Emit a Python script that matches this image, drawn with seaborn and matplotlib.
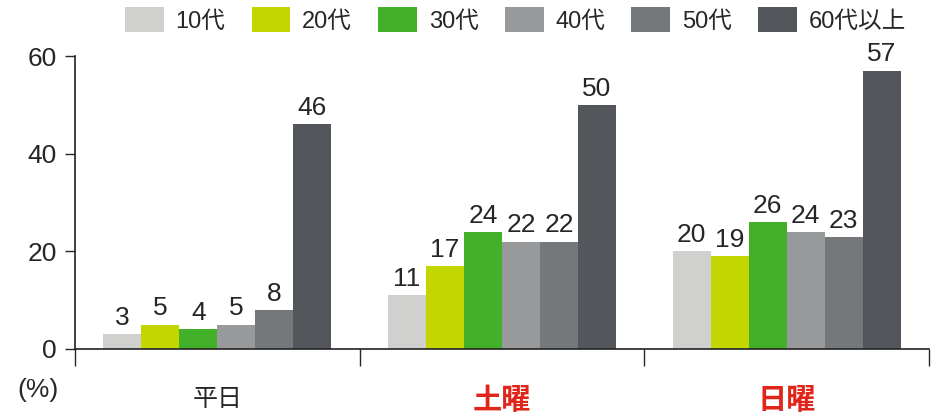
import pandas as pd
import seaborn as sns
import matplotlib.pyplot as plt
from matplotlib.ticker import FixedLocator

# data
days = ["平日", "土曜", "日曜"]
ages = ["10代", "20代", "30代", "40代", "50代", "60代以上"]
weekday = [3, 5, 4, 5, 8, 46]
saturday = [11, 17, 24, 22, 22, 50]
sunday = [20, 19, 26, 24, 23, 57]
palette = ["#d0d0ce", "#c4d600", "#43b02a", "#98999b", "#75787b", "#53565a"]

rows = []
for day, vals in zip(days, [weekday, saturday, sunday]):
    for age, v in zip(ages, vals):
        rows.append({"day": day, "age": age, "value": v})
df = pd.DataFrame(rows)

sns.set_style("white")
plt.rcParams["font.family"] = ["Liberation Sans", "Noto Sans CJK JP", "DejaVu Sans"]

fig = plt.figure(figsize=(9.31, 4.13), dpi=100)
ax = fig.add_axes([75 / 931, 1 - 349 / 413, (929 - 75) / 931, (349 - 56) / 413])

sns.barplot(data=df, x="day", y="value", hue="age", hue_order=ages, order=days,
            palette=palette, width=0.8, saturation=1, linewidth=0, ax=ax, legend=True)

for cont in ax.containers:
    ax.bar_label(cont, fontsize=19, padding=3)

ax.set_xlim(-0.5, 2.5)
ax.set_ylim(0, 60)
ax.set_yticks([0, 20, 40, 60])
ax.tick_params(axis="y", labelsize=19, length=7, width=1, direction="out", left=True, pad=6)

# category boundary ticks (major) and labels at centres (minor)
ax.xaxis.set_major_locator(FixedLocator([-0.5, 0.5, 1.5, 2.5]))
ax.set_xticklabels([])
ax.xaxis.set_minor_locator(FixedLocator([0, 1, 2]))
ax.set_xticklabels(days, minor=True)
ax.tick_params(axis="x", which="major", length=12, width=1, direction="out", bottom=True)
ax.tick_params(axis="x", which="minor", length=0, pad=27, labelsize=18)
for lbl, day in zip(ax.get_xticklabels(minor=True), days):
    if day != "平日":
        lbl.set_color("#e0261b")
        lbl.set_fontweight("bold")
        lbl.set_fontsize(21)

ax.set_xlabel("")
ax.set_ylabel("")
for s in ["top", "right"]:
    ax.spines[s].set_visible(False)
for s in ["left", "bottom"]:
    ax.spines[s].set_color("#222222")
    ax.spines[s].set_linewidth(1.2)

fig.text(38 / 931, 1 - 390 / 413, "(%)", fontsize=19, ha="center", va="center")

handles, labels = ax.get_legend_handles_labels()
ax.get_legend().remove()
fig.legend(handles, labels, ncol=6, frameon=False, loc="center right",
           bbox_to_anchor=(906 / 931, 1 - 20 / 413), borderaxespad=0, borderpad=0,
           fontsize=17, handlelength=1.65, handleheight=1.2, handletextpad=0.5,
           columnspacing=1.1)

fig.savefig("out.png", dpi=100)
